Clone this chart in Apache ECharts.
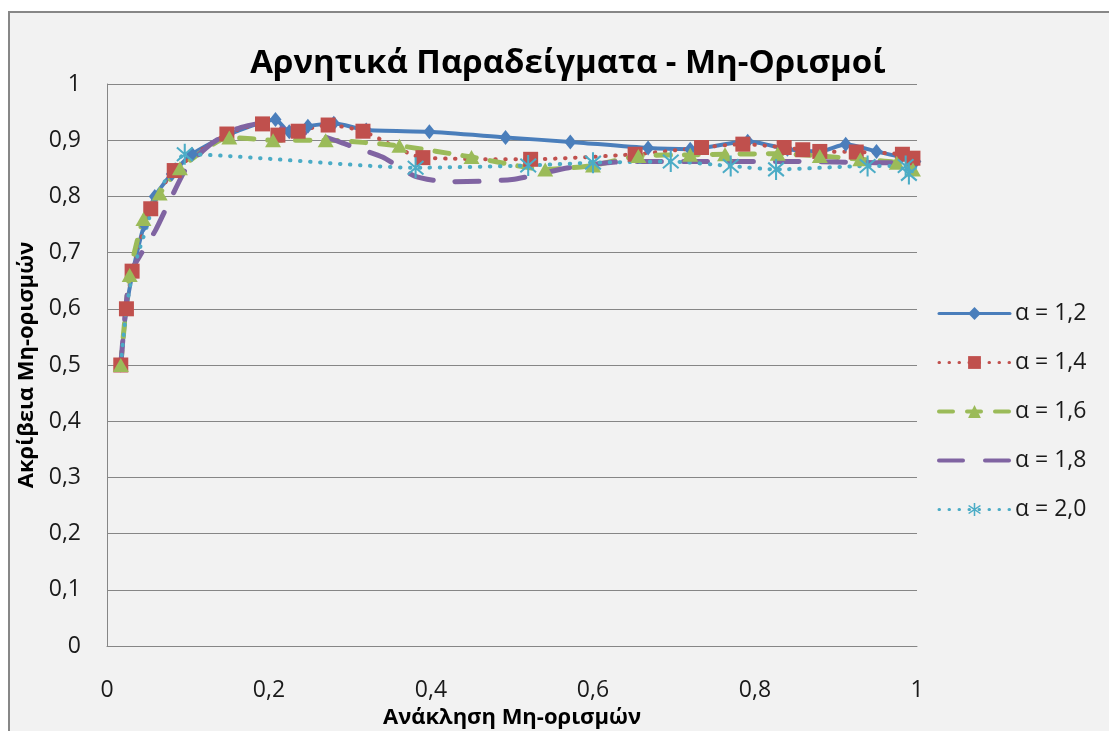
<!DOCTYPE html>
<html>
<head>
<meta charset="utf-8">
<title>Αρνητικά Παραδείγματα - Μη-Ορισμοί</title>
<script src="https://cdn.jsdelivr.net/npm/echarts@6/dist/echarts.min.js"></script>
<style>
    html, body { margin: 0; padding: 0; background: #ffffff; }
    #chart-container { width: 1109px; height: 731px; }
</style>
</head>
<body>
<div id="chart-container"></div>
<script>
// τιμές διαβασμένες από το γράφημα
var seriesNames = ['α = 1,2', 'α = 1,4', 'α = 1,6', 'α = 1,8', 'α = 2,0'];

var a12X = [0.017, 0.024, 0.032, 0.046, 0.059, 0.080, 0.105, 0.150, 0.208, 0.225, 0.248, 0.280, 0.320, 0.398, 0.492, 0.572, 0.668, 0.720, 0.791, 0.840, 0.880, 0.912, 0.950, 0.980, 0.998];
var a12Y = [0.500, 0.600, 0.667, 0.750, 0.800, 0.840, 0.875, 0.910, 0.937, 0.915, 0.925, 0.930, 0.918, 0.915, 0.905, 0.897, 0.886, 0.884, 0.898, 0.884, 0.880, 0.893, 0.880, 0.870, 0.862];

var a14X = [0.017, 0.024, 0.031, 0.054, 0.083, 0.148, 0.192, 0.211, 0.236, 0.273, 0.316, 0.390, 0.523, 0.652, 0.734, 0.785, 0.836, 0.859, 0.880, 0.925, 0.982, 0.995];
var a14Y = [0.500, 0.600, 0.667, 0.778, 0.846, 0.911, 0.929, 0.909, 0.916, 0.927, 0.916, 0.869, 0.866, 0.875, 0.887, 0.893, 0.887, 0.883, 0.880, 0.879, 0.875, 0.868];

var a16X = [0.017, 0.028, 0.045, 0.065, 0.090, 0.151, 0.205, 0.270, 0.361, 0.450, 0.541, 0.600, 0.656, 0.720, 0.763, 0.828, 0.880, 0.930, 0.975, 0.995];
var a16Y = [0.500, 0.660, 0.760, 0.805, 0.850, 0.905, 0.900, 0.900, 0.890, 0.870, 0.848, 0.855, 0.872, 0.874, 0.875, 0.876, 0.872, 0.866, 0.860, 0.848];

var a18X = [0.017, 0.028, 0.043, 0.060, 0.080, 0.100, 0.130, 0.160, 0.190, 0.230, 0.260, 0.300, 0.340, 0.380, 0.420, 0.500, 0.570, 0.640, 0.750, 0.850, 0.950, 1.000];
var a18Y = [0.500, 0.660, 0.700, 0.740, 0.800, 0.855, 0.895, 0.920, 0.930, 0.915, 0.910, 0.890, 0.870, 0.836, 0.826, 0.830, 0.851, 0.862, 0.862, 0.862, 0.860, 0.860];

var a20X = [0.017, 0.024, 0.032, 0.050, 0.060, 0.080, 0.096, 0.381, 0.520, 0.600, 0.696, 0.770, 0.826, 0.939, 0.986, 0.990];
var a20Y = [0.500, 0.600, 0.667, 0.750, 0.800, 0.845, 0.875, 0.851, 0.855, 0.860, 0.862, 0.854, 0.848, 0.854, 0.854, 0.840];

var xTicks = [0, 0.2, 0.4, 0.6, 0.8, 1];
var yTicks = [0, 0.1, 0.2, 0.3, 0.4, 0.5, 0.6, 0.7, 0.8, 0.9, 1];

(function () {
    var domChart = document.getElementById('chart-container');
    var ioChart = echarts.init(domChart);
    var fontName = 'Open Sans';

    function zip(xs, ys) {
        var out = [];
        for (var i = 0; i < xs.length; i++) {
            out.push([xs[i], ys[i]]);
        }
        return out;
    }
    // τα πρώτα αστεράκια κρύβονται κάτω από τα άλλα σημάδια στο πρωτότυπο
    function zipHidden(xs, ys, fromX) {
        var out = [];
        for (var i = 0; i < xs.length; i++) {
            if (xs[i] < fromX) {
                out.push({ value: [xs[i], ys[i]], symbol: 'none' });
            } else {
                out.push([xs[i], ys[i]]);
            }
        }
        return out;
    }
    function commaNum(v) {
        return String(Math.round(v * 10) / 10).replace('.', ',');
    }

    var colors = ['#4a7ebb', '#c0504d', '#9bbb59', '#8064a2', '#4bacc6'];
    var dashes = ['solid', [0.5, 9.5], [14, 14], [24, 22], [0.5, 9.5]];
    var widths = [4, 4, 5, 5, 4];

    var starPath = 'path://M-1,10L1,10L1,-10L-1,-10Z' +
        'M7.02,7.2L8.3,5.66L-7.02,-7.2L-8.3,-5.66Z' +
        'M8.3,-5.66L7.02,-7.2L-8.3,5.66L-7.02,7.2Z';

    var legendData = [];
    for (var k = 0; k < seriesNames.length; k++) {
        var item = {
            name: seriesNames[k],
            lineStyle: { width: widths[k] - 1, type: dashes[k], cap: 'round', color: colors[k] }
        };
        if (k === 3) {
            item.itemStyle = { opacity: 0 };
        }
        legendData.push(item);
    }

    var chartOption = {
        backgroundColor: '#ffffff',
        animation: false,
        graphic: [
            {
                type: 'rect',
                z: -10,
                shape: { x: 9, y: 12, width: 1120, height: 740 },
                style: { fill: '#f2f2f2', stroke: '#878787', lineWidth: 2 }
            }
        ],
        title: {
            text: 'Αρνητικά Παραδείγματα - Μη-Ορισμοί',
            left: 563,
            top: 42,
            textAlign: 'center',
            textStyle: {
                fontFamily: fontName,
                fontSize: 33,
                fontWeight: 'bold',
                color: '#000000'
            }
        },
        legend: {
            orient: 'vertical',
            left: 937,
            top: 302,
            padding: 0,
            itemWidth: 71,
            itemHeight: 16,
            itemGap: 26,
            data: legendData,
            textStyle: {
                fontFamily: fontName,
                fontSize: 23,
                color: '#1a1a1a'
            }
        },
        grid: {
            left: 107,
            right: 192,
            top: 84,
            bottom: 85,
            outerBoundsMode: 'none'
        },
        xAxis: {
            type: 'value',
            min: 0,
            max: 1,
            interval: 0.2,
            name: 'Ανάκληση Μη-ορισμών',
            nameLocation: 'middle',
            nameGap: 60,
            nameTextStyle: {
                fontFamily: fontName,
                fontSize: 22,
                fontWeight: 'bold',
                color: '#000000'
            },
            axisLine: { show: true, lineStyle: { color: '#868686', width: 1 } },
            axisTick: { show: false },
            splitLine: { show: false },
            axisLabel: {
                margin: 33,
                fontFamily: fontName,
                fontSize: 23,
                color: '#1a1a1a',
                formatter: commaNum,
                customValues: xTicks
            }
        },
        yAxis: {
            type: 'value',
            min: 0,
            max: 1,
            interval: 0.1,
            name: 'Ακρίβεια Μη-ορισμών',
            nameLocation: 'middle',
            nameGap: 64,
            nameTextStyle: {
                fontFamily: fontName,
                fontSize: 22,
                fontWeight: 'bold',
                color: '#000000'
            },
            axisLine: { show: true, lineStyle: { color: '#868686', width: 1 } },
            axisTick: { show: false },
            splitLine: { show: true, lineStyle: { color: '#868686', width: 1 } },
            axisLabel: {
                margin: 26,
                fontFamily: fontName,
                fontSize: 23,
                color: '#1a1a1a',
                formatter: commaNum,
                customValues: yTicks
            }
        },
        series: [
            {
                name: seriesNames[0],
                type: 'line',
                smooth: 0.2,
                data: zip(a12X, a12Y),
                symbol: 'diamond',
                symbolSize: [12, 15],
                itemStyle: { color: colors[0] },
                lineStyle: { color: colors[0], width: widths[0], type: dashes[0], cap: 'round', join: 'round' }
            },
            {
                name: seriesNames[1],
                type: 'line',
                smooth: 0.2,
                data: zip(a14X, a14Y),
                symbol: 'rect',
                symbolSize: 15,
                itemStyle: { color: colors[1] },
                lineStyle: { color: colors[1], width: widths[1], type: dashes[1], cap: 'round' }
            },
            {
                name: seriesNames[2],
                type: 'line',
                smooth: 0.2,
                data: zip(a16X, a16Y),
                symbol: 'triangle',
                symbolSize: [16, 14],
                itemStyle: { color: colors[2] },
                lineStyle: { color: colors[2], width: widths[2], type: dashes[2], cap: 'round' }
            },
            {
                name: seriesNames[3],
                type: 'line',
                smooth: 0.2,
                data: zip(a18X, a18Y),
                symbol: 'none',
                itemStyle: { color: colors[3] },
                lineStyle: { color: colors[3], width: widths[3], type: dashes[3], cap: 'round' }
            },
            {
                name: seriesNames[4],
                type: 'line',
                smooth: 0.2,
                data: zipHidden(a20X, a20Y, 0.09),
                symbol: starPath,
                symbolSize: [17, 21],
                itemStyle: { color: colors[4] },
                lineStyle: { color: colors[4], width: widths[4], type: dashes[4], cap: 'round' }
            }
        ]
    };
    ioChart.setOption(chartOption);
})();
</script>
</body>
</html>
